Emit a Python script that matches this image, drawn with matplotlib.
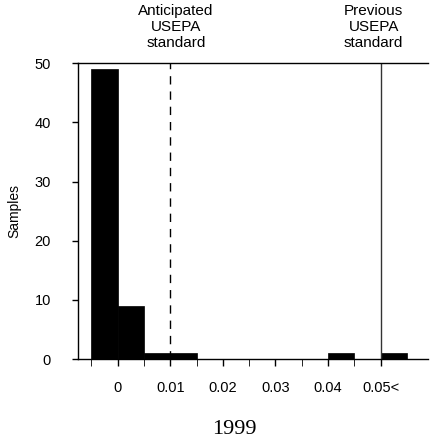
import matplotlib
matplotlib.use("Agg")
from matplotlib import pyplot as plt
from matplotlib import transforms

# histogram of arsenic concentrations, 1999
bin_left = [-0.005, 0.0, 0.005, 0.01, 0.04, 0.05]
counts = [49, 9, 1, 1, 1, 1]
bin_width = 0.005

xticks = [0, 0.01, 0.02, 0.03, 0.04, 0.05]
xlabels = ['0', '0.01', '0.02', '0.03', '0.04', '0.05<']
yticks = [0, 10, 20, 30, 40, 50]

plt.rcParams['font.family'] = ['Liberation Sans', 'DejaVu Sans']

fig = plt.figure(figsize=(4.3, 4.45), dpi=100)
ax = fig.add_axes([0.181, 0.193, 0.814, 0.665])

ax.bar(bin_left, counts, width=bin_width, align='edge', color='black',
       edgecolor='black', linewidth=0.5)

ax.axvline(0.01, color='black', linestyle=(0, (6, 5)), linewidth=1)
ax.axvline(0.05, color='#333333', linewidth=1)

ax.set_xlim(-0.0076, 0.059)
ax.set_ylim(0, 50)
ax.set_xticks(xticks)
ax.set_xticklabels(xlabels)
ax.set_xticks([i * 0.005 for i in range(-1, 11)], minor=True)
ax.set_yticks(yticks)
ax.tick_params(axis='both', labelsize=10.5, direction='out', width=1)
ax.tick_params(axis='x', which='both', length=5, pad=11)
ax.tick_params(axis='y', length=4.3, pad=15)
ax.spines['right'].set_visible(False)
for s in ['left', 'top', 'bottom']:
    ax.spines[s].set_linewidth(1)

ax.set_ylabel('Samples', fontsize=10)
ax.yaxis.set_label_coords(-0.16, 0.5)

# standard labels above the plot (x in data, y in figure)
trans = transforms.blended_transform_factory(ax.transData, fig.transFigure)
ax.text(0.0111, 0.992, 'Anticipated\nUSEPA\nstandard', ha='center', va='top',
        fontsize=11, linespacing=1.2, transform=trans)
ax.text(0.0487, 0.992, 'Previous\nUSEPA\nstandard', ha='center', va='top',
        fontsize=11, linespacing=1.2, transform=trans)

fig.text(0.544, 0.034, '1999', ha='center', va='center', fontsize=16,
         family=['Liberation Serif', 'DejaVu Serif'])

fig.savefig('out.png', dpi=100)
